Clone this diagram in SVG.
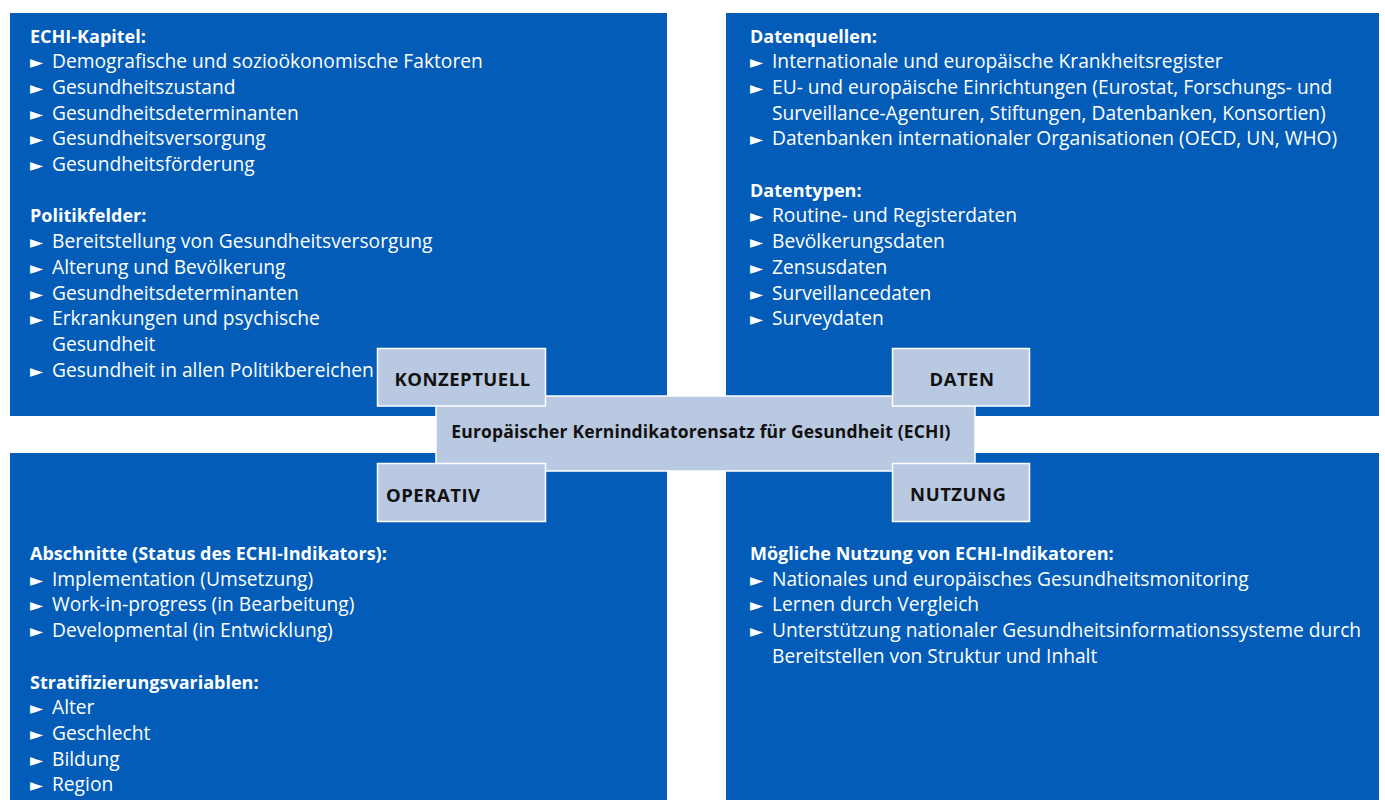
<svg xmlns="http://www.w3.org/2000/svg" width="1385" height="800" viewBox="0 0 1385 800">
  <style>
    .panel { fill: #025CB8; }
    .tab { fill: #B9C9E2; stroke: #FFFFFF; stroke-width: 1.5; }
    .head { font-family: "Open Sans", "Liberation Sans", sans-serif; font-size: 18px; font-weight: 700; fill: #FFFFFF; }
    .item { font-family: "Open Sans", "Liberation Sans", sans-serif; font-size: 19.2px; fill: #FFFFFF; }
    .bul { font-family: "DejaVu Sans", sans-serif; font-size: 17px; fill: #FFFFFF; }
    .label { font-family: "Open Sans", "Liberation Sans", sans-serif; font-size: 18.5px; font-weight: 700; letter-spacing: 0.5px; fill: #111111; }
    .title { font-family: "Open Sans", "Liberation Sans", sans-serif; font-size: 17.5px; font-weight: 700; letter-spacing: 0.15px; fill: #111111; }
  </style>

  <rect width="1385" height="800" fill="#FFFFFF"/>

  <!-- Quadrant: conceptual -->
  <g id="panel-konzeptuell">
    <rect class="panel" x="10" y="13" width="657" height="403"/>
    <text class="head" x="30" y="42.5">ECHI-Kapitel:</text>
    <text class="bul" x="30" y="68.2">►</text><text class="item" x="52" y="68.2">Demografische und sozioökonomische Faktoren</text>
    <text class="bul" x="30" y="93.9">►</text><text class="item" x="52" y="93.9">Gesundheitszustand</text>
    <text class="bul" x="30" y="119.6">►</text><text class="item" x="52" y="119.6">Gesundheitsdeterminanten</text>
    <text class="bul" x="30" y="145.3">►</text><text class="item" x="52" y="145.3">Gesundheitsversorgung</text>
    <text class="bul" x="30" y="171">►</text><text class="item" x="52" y="171">Gesundheitsförderung</text>
    <text class="head" x="30" y="222.4">Politikfelder:</text>
    <text class="bul" x="30" y="248.1">►</text><text class="item" x="52" y="248.1">Bereitstellung von Gesundheitsversorgung</text>
    <text class="bul" x="30" y="273.8">►</text><text class="item" x="52" y="273.8">Alterung und Bevölkerung</text>
    <text class="bul" x="30" y="299.5">►</text><text class="item" x="52" y="299.5">Gesundheitsdeterminanten</text>
    <text class="bul" x="30" y="325.2">►</text><text class="item" x="52" y="325.2">Erkrankungen und psychische</text>
    <text class="item" x="52" y="350.9">Gesundheit</text>
    <text class="bul" x="30" y="376.6">►</text><text class="item" x="52" y="376.6">Gesundheit in allen Politikbereichen</text>
  </g>

  <!-- Quadrant: data -->
  <g id="panel-daten">
    <rect class="panel" x="726" y="13" width="653" height="403"/>
    <text class="head" x="750" y="42.5">Datenquellen:</text>
    <text class="bul" x="750" y="68.2">►</text><text class="item" x="772" y="68.2">Internationale und europäische Krankheitsregister</text>
    <text class="bul" x="750" y="93.9">►</text><text class="item" x="772" y="93.9">EU- und europäische Einrichtungen (Eurostat, Forschungs- und</text>
    <text class="item" x="772" y="119.6">Surveillance-Agenturen, Stiftungen, Datenbanken, Konsortien)</text>
    <text class="bul" x="750" y="145.3">►</text><text class="item" x="772" y="145.3">Datenbanken internationaler Organisationen (OECD, UN, WHO)</text>
    <text class="head" x="750" y="196.7">Datentypen:</text>
    <text class="bul" x="750" y="222.4">►</text><text class="item" x="772" y="222.4">Routine- und Registerdaten</text>
    <text class="bul" x="750" y="248.1">►</text><text class="item" x="772" y="248.1">Bevölkerungsdaten</text>
    <text class="bul" x="750" y="273.8">►</text><text class="item" x="772" y="273.8">Zensusdaten</text>
    <text class="bul" x="750" y="299.5">►</text><text class="item" x="772" y="299.5">Surveillancedaten</text>
    <text class="bul" x="750" y="325.2">►</text><text class="item" x="772" y="325.2">Surveydaten</text>
  </g>

  <!-- Quadrant: operational -->
  <g id="panel-operativ">
    <rect class="panel" x="10" y="453" width="657" height="347"/>
    <text class="head" x="30" y="560">Abschnitte (Status des ECHI-Indikators):</text>
    <text class="bul" x="30" y="585.7">►</text><text class="item" x="52" y="585.7">Implementation (Umsetzung)</text>
    <text class="bul" x="30" y="611.4">►</text><text class="item" x="52" y="611.4">Work-in-progress (in Bearbeitung)</text>
    <text class="bul" x="30" y="637.1">►</text><text class="item" x="52" y="637.1">Developmental (in Entwicklung)</text>
    <text class="head" x="30" y="688.5">Stratifizierungsvariablen:</text>
    <text class="bul" x="30" y="714.2">►</text><text class="item" x="52" y="714.2">Alter</text>
    <text class="bul" x="30" y="739.9">►</text><text class="item" x="52" y="739.9">Geschlecht</text>
    <text class="bul" x="30" y="765.6">►</text><text class="item" x="52" y="765.6">Bildung</text>
    <text class="bul" x="30" y="791.3">►</text><text class="item" x="52" y="791.3">Region</text>
  </g>

  <!-- Quadrant: use -->
  <g id="panel-nutzung">
    <rect class="panel" x="726" y="453" width="653" height="347"/>
    <text class="head" x="750" y="560">Mögliche Nutzung von ECHI-Indikatoren:</text>
    <text class="bul" x="750" y="585.7">►</text><text class="item" x="772" y="585.7">Nationales und europäisches Gesundheitsmonitoring</text>
    <text class="bul" x="750" y="611.4">►</text><text class="item" x="772" y="611.4">Lernen durch Vergleich</text>
    <text class="bul" x="750" y="637.1">►</text><text class="item" x="772" y="637.1">Unterstützung nationaler Gesundheitsinformationssysteme durch</text>
    <text class="item" x="772" y="662.8">Bereitstellen von Struktur und Inhalt</text>
  </g>

  <!-- Central bar -->
  <g id="node-echi">
    <rect class="tab" x="436" y="396" width="539" height="75"/>
    <text class="title" x="701" y="438.3" text-anchor="middle">Europäischer Kernindikatorensatz für Gesundheit (ECHI)</text>
  </g>

  <!-- Quadrant tabs -->
  <g id="tab-konzeptuell">
    <rect class="tab" x="377.5" y="348.5" width="168" height="57.5"/>
    <text class="label" x="462.5" y="386" text-anchor="middle">KONZEPTUELL</text>
  </g>
  <g id="tab-daten">
    <rect class="tab" x="892.5" y="348.5" width="137" height="57.5"/>
    <text class="label" x="962" y="385.7" text-anchor="middle">DATEN</text>
  </g>
  <g id="tab-operativ">
    <rect class="tab" x="377.5" y="463.5" width="168" height="58"/>
    <text class="label" x="386" y="501.7">OPERATIV</text>
  </g>
  <g id="tab-nutzung">
    <rect class="tab" x="892.5" y="463.5" width="137" height="58"/>
    <text class="label" x="958.3" y="500.7" text-anchor="middle">NUTZUNG</text>
  </g>

  <g id="connectors"/>
</svg>
